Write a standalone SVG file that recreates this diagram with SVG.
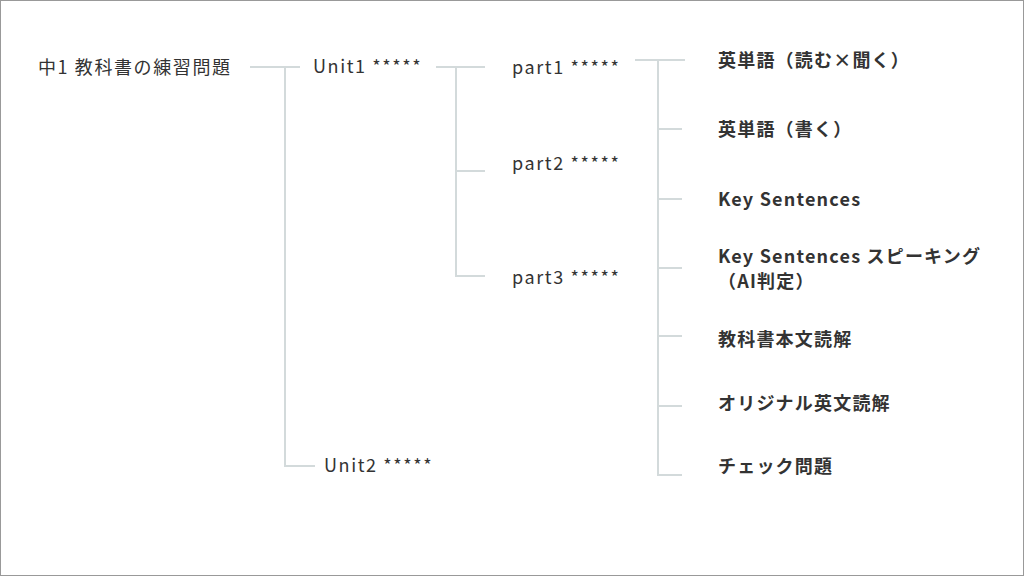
<svg xmlns="http://www.w3.org/2000/svg" width="1024" height="576" viewBox="0 0 1024 576">
<style>
.l{stroke:#d3dadb;stroke-width:2;fill:none}
.n{font-family:"Noto Sans CJK JP","Noto Sans",sans-serif;font-size:18px;letter-spacing:1.6px;fill:#333}
.b{font-family:"Noto Sans CJK JP","Noto Sans",sans-serif;font-size:18px;letter-spacing:1.2px;font-weight:bold;fill:#333}
</style>
<rect x="0.5" y="0.5" width="1023" height="575" fill="#fff" stroke="#999"/>
<g id="connectors" class="l">
<path d="M250 67H300M285 67V466H315"/>
<path d="M436 67H485M456 67V276H485M456 171H485"/>
<path d="M635 60H685M658 60V475H682M658 129H682M658 199H682M658 268H682M658 336H682M658 406H682"/>
</g>
<g id="root"><text class="n" x="38" y="74">中1 教科書の練習問題</text></g>
<g id="unit1"><text class="n" x="313" y="73">Unit1 *****</text></g>
<g id="unit2"><text class="n" x="324" y="472">Unit2 *****</text></g>
<g id="part1"><text class="n" x="512" y="74">part1 *****</text></g>
<g id="part2"><text class="n" x="512" y="170">part2 *****</text></g>
<g id="part3"><text class="n" x="512" y="284">part3 *****</text></g>
<g id="leaf1"><text class="b" x="718" y="67">英単語（読む×聞く）</text></g>
<g id="leaf2"><text class="b" x="718" y="136">英単語（書く）</text></g>
<g id="leaf3"><text class="b" x="718" y="206">Key Sentences</text></g>
<g id="leaf4"><text class="b" x="718" y="263">Key Sentences スピーキング</text><text class="b" x="718" y="288">（AI判定）</text></g>
<g id="leaf5"><text class="b" x="718" y="346">教科書本文読解</text></g>
<g id="leaf6"><text class="b" x="718" y="410">オリジナル英文読解</text></g>
<g id="leaf7"><text class="b" x="718" y="473">チェック問題</text></g>
</svg>
